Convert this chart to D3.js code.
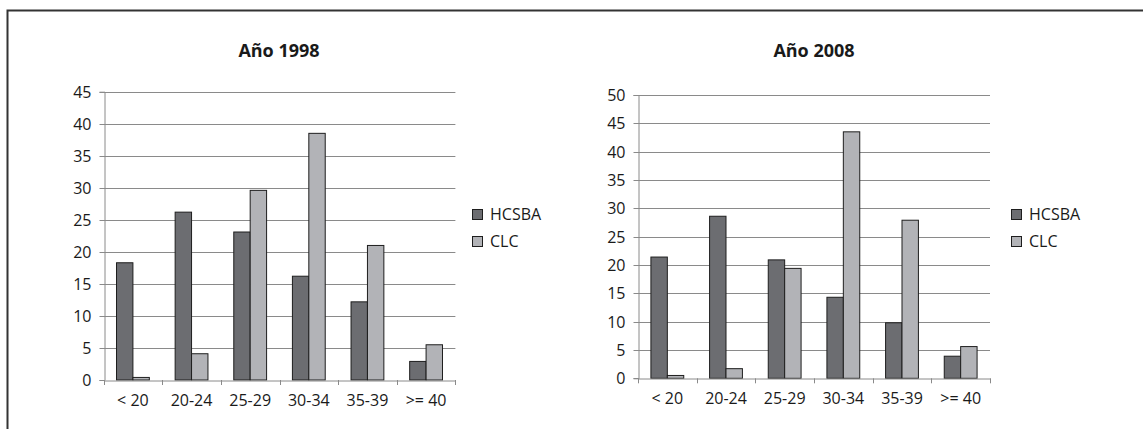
<!DOCTYPE html>
<html>
<head>
<meta charset="utf-8">
<script src="https://cdn.jsdelivr.net/npm/d3@7"></script>
<style>
  html, body { margin: 0; padding: 0; background: #fff; }
  svg { display: block; }
  text { font-family: "Open Sans", "Noto Sans", sans-serif; fill: #1a1a1a; }
</style>
</head>
<body>
<svg id="chart" width="1143" height="429"></svg>
<script>
// ---- Data ----
const categories = ["< 20", "20-24", "25-29", "30-34", "35-39", ">= 40"];
const seriesNames = ["HCSBA", "CLC"];
const titles = ["Año 1998", "Año 2008"];
const hcsba1998 = [18.3, 26.2, 23.1, 16.2, 12.2, 2.9];
const clc1998   = [0.4, 4.1, 29.6, 38.5, 21.0, 5.5];
const hcsba2008 = [21.4, 28.6, 20.9, 14.3, 9.8, 3.9];
const clc2008   = [0.5, 1.7, 19.4, 43.5, 27.9, 5.6];
const yTicks1998 = [0, 5, 10, 15, 20, 25, 30, 35, 40, 45];
const yTicks2008 = [0, 5, 10, 15, 20, 25, 30, 35, 40, 45, 50];

// ---- Layout / style ----
const colors = { HCSBA: "#6c6d71", CLC: "#b2b3b7" };
const panels = [
  { title: titles[0], data: [hcsba1998, clc1998], ticks: yTicks1998, max: 45,
    x0: 103.6, x1: 455.4, yTop: 91.7, yBot: 380, titleX: 279, legendX: 472 },
  { title: titles[1], data: [hcsba2008, clc2008], ticks: yTicks2008, max: 50,
    x0: 638, x1: 990, yTop: 95, yBot: 378.3, titleX: 814, legendX: 1011 }
];

const svg = d3.select("#chart");

// outer frame
svg.append("rect")
  .attr("x", 7.5).attr("y", 10.5)
  .attr("width", 1160).attr("height", 440)
  .attr("fill", "none").attr("stroke", "#333").attr("stroke-width", 2);

panels.forEach(p => {
  const g = svg.append("g");
  const x = d3.scaleBand().domain(categories).range([p.x0, p.x1]).padding(0);
  const xs = d3.scaleBand().domain(seriesNames).range([0, x.bandwidth()])
    .paddingInner(0).paddingOuter(0.787);
  const y = d3.scaleLinear().domain([0, p.max]).range([p.yBot, p.yTop]);

  // gridlines
  g.append("g")
    .selectAll("line").data(p.ticks.filter(t => t > 0)).join("line")
    .attr("x1", p.x0).attr("x2", p.x1)
    .attr("y1", d => Math.round(y(d)) + 0.5).attr("y2", d => Math.round(y(d)) + 0.5)
    .attr("stroke", "#8a8a8a").attr("stroke-width", 1);

  // y axis
  const yAxis = g.append("g")
    .attr("transform", `translate(${Math.round(p.x0) + 0.5},0)`)
    .call(d3.axisLeft(y).tickValues(p.ticks).tickSize(5).tickPadding(8).tickFormat(d3.format("d")));
  yAxis.select(".domain").attr("stroke", "#8a8a8a");
  yAxis.selectAll(".tick line").attr("stroke", "#8a8a8a");
  yAxis.selectAll(".tick").attr("transform", d => `translate(0,${Math.round(y(d)) + 0.5})`);
  yAxis.selectAll("text").style("font-size", "16px").attr("fill", "#1a1a1a")
    .style("font-family", "'Open Sans', sans-serif");

  // bars
  seriesNames.forEach((s, si) => {
    g.append("g").selectAll("rect").data(categories).join("rect")
      .attr("x", c => x(c) + xs(s))
      .attr("y", (c, i) => y(p.data[si][i]))
      .attr("width", xs.bandwidth())
      .attr("height", (c, i) => y(0) - y(p.data[si][i]))
      .attr("fill", colors[s])
      .attr("stroke", "#1e1e1e").attr("stroke-width", 1);
  });

  // x axis
  const xAxis = g.append("g")
    .attr("transform", `translate(0,${Math.round(p.yBot) + 0.5})`)
    .call(d3.axisBottom(x).tickSize(0).tickPadding(14));
  xAxis.select(".domain").attr("stroke", "#8a8a8a");
  xAxis.selectAll("text").style("font-size", "16px").attr("fill", "#1a1a1a")
    .style("font-family", "'Open Sans', sans-serif");
  // boundary tick marks
  const bounds = categories.map(c => x(c)).concat([p.x1]);
  g.append("g").selectAll("line").data(bounds).join("line")
    .attr("x1", d => Math.round(d) + 0.5).attr("x2", d => Math.round(d) + 0.5)
    .attr("y1", p.yBot).attr("y2", p.yBot + 5)
    .attr("stroke", "#8a8a8a");

  // title
  g.append("text")
    .attr("x", p.titleX).attr("y", 57)
    .attr("text-anchor", "middle")
    .style("font-size", "18px").style("font-weight", "bold")
    .text(p.title);

  // legend
  seriesNames.forEach((s, si) => {
    const ly = 209 + si * 27;
    g.append("rect")
      .attr("x", p.legendX + 0.5).attr("y", ly + 0.5)
      .attr("width", 10).attr("height", 10)
      .attr("fill", colors[s]).attr("stroke", "#1e1e1e");
    g.append("text")
      .attr("x", p.legendX + 18).attr("y", ly + 11)
      .style("font-size", "16px")
      .text(s);
  });
});
</script>
</body>
</html>
